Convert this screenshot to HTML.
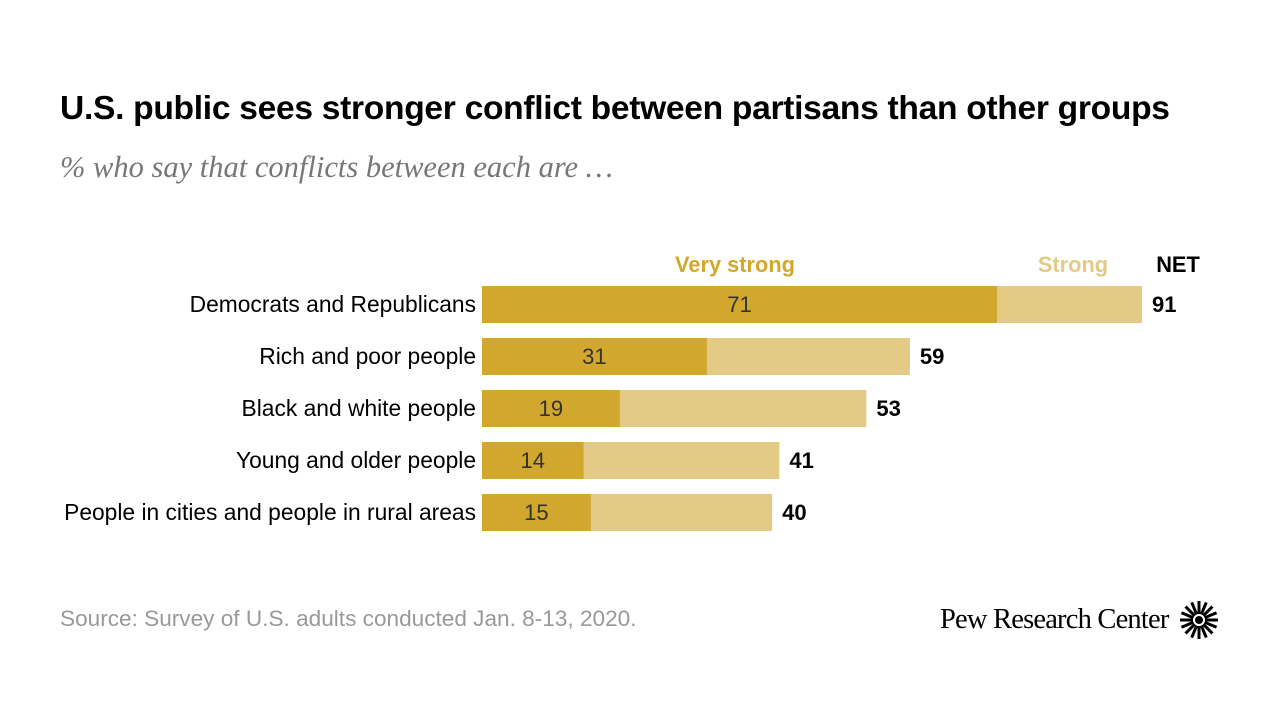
<!DOCTYPE html>
<html><head><meta charset="utf-8">
<style>
body{margin:0;width:1280px;height:720px;background:#fff;font-family:"Liberation Sans",sans-serif;position:relative;overflow:hidden}
.t{position:absolute;white-space:nowrap}
</style></head><body>
<div class="t" style="left:60px;top:90px;font-size:33.6px;font-weight:bold;color:#000;letter-spacing:-0.3px">U.S. public sees stronger conflict between partisans than other groups</div>
<div class="t" style="left:60px;top:150px;font-size:30.5px;font-style:italic;color:#777;font-family:'Liberation Serif',serif">% who say that conflicts between each are …</div>
<svg id="chart" width="1280" height="720" style="position:absolute;left:0;top:0"></svg>
<div class="t" style="left:60px;top:606px;font-size:22.6px;color:#999">Source: Survey of U.S. adults conducted Jan. 8-13, 2020.</div>
<div class="t" style="left:940px;top:604px;font-size:28.5px;color:#000;font-family:'Liberation Serif',serif;letter-spacing:-0.8px">Pew Research Center</div>
<svg width="40" height="40" style="position:absolute;left:1179px;top:600px" viewBox="-20 -20 40 40">
<g id="rays"></g><circle r="4" fill="#000"/></svg>
<script>
const categories=["Democrats and Republicans","Rich and poor people","Black and white people","Young and older people","People in cities and people in rural areas"];
const veryStrong=[71,31,19,14,15];
const net=[91,59,53,41,40];
const x0=482, scale=660/91, rowTop=286, pitch=52, bh=37;
const sx=v=>x0+v*scale;
const svg=document.getElementById('chart');
const NS='http://www.w3.org/2000/svg';
function mk(tag,attrs,text){const e=document.createElementNS(NS,tag);for(const k in attrs)e.setAttribute(k,attrs[k]);if(text!==undefined)e.textContent=text;svg.appendChild(e);return e;}
let h;
h=mk('text',{x:735,y:272,'text-anchor':'middle','font-size':21.8,'font-weight':'bold',fill:'#d2a82d'},'Very strong');


h=mk('text',{x:1073,y:272,'text-anchor':'middle','font-size':21.8,'font-weight':'bold',fill:'#e3cb85'},'Strong');


h=mk('text',{x:1178,y:272,'text-anchor':'middle','font-size':21.8,'font-weight':'bold',fill:'#000'},'NET');


categories.forEach((c,i)=>{
  const y=rowTop+i*pitch;
  let e=mk('rect',{x:x0,y:y,width:sx(net[i])-x0,height:bh,fill:'#e3ca85'});
  
  
  e=mk('rect',{x:x0,y:y,width:sx(veryStrong[i])-x0,height:bh,fill:'#d1a72e'});
  
  
  e=mk('text',{x:476,y:y+26,'text-anchor':'end','font-size':22.8,fill:'#000'},c);
  
  
  e=mk('text',{x:(x0+sx(veryStrong[i]))/2,y:y+26,'text-anchor':'middle','font-size':22,fill:'#333'},veryStrong[i]);
  
  
  e=mk('text',{x:sx(net[i])+10,y:y+26,'font-size':22,'font-weight':'bold',fill:'#000'},net[i]);
  
  
});
const g=document.getElementById('rays');
for(let k=0;k<16;k++){const a=k*Math.PI/8;const l=document.createElementNS(NS,'line');
l.setAttribute('x1',6*Math.cos(a));l.setAttribute('y1',6*Math.sin(a));
l.setAttribute('x2',19*Math.cos(a));l.setAttribute('y2',19*Math.sin(a));
l.setAttribute('stroke','#000');l.setAttribute('stroke-width','3');g.appendChild(l);}
</script>
</body></html>
